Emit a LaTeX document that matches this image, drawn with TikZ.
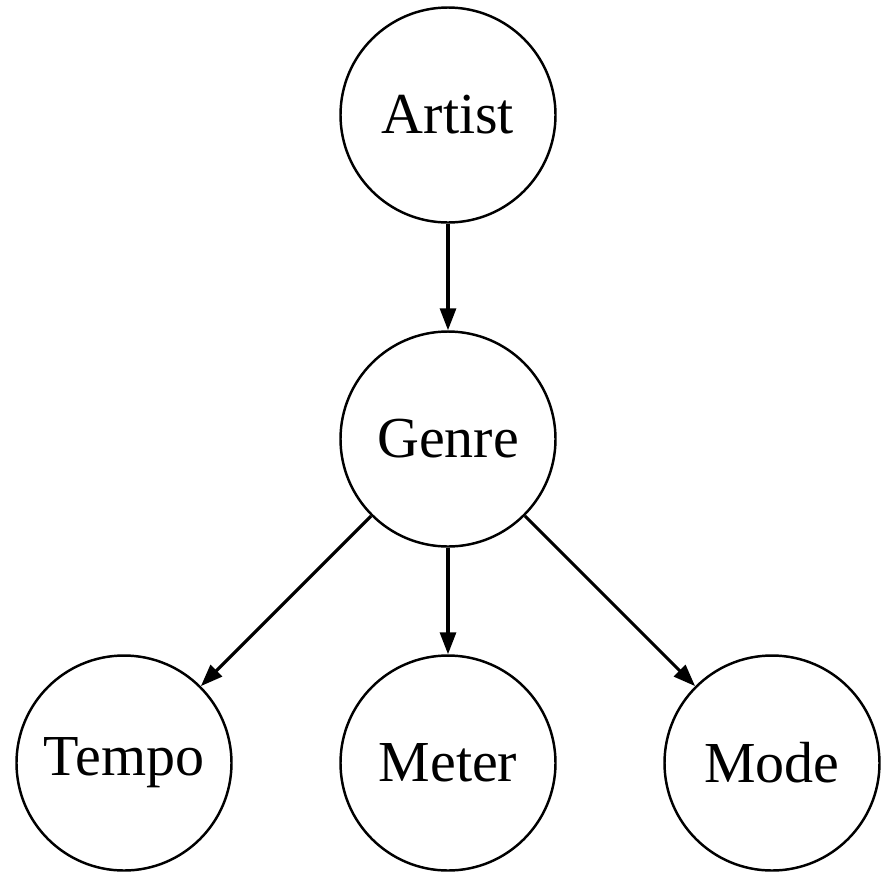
\documentclass[tikz,border=0pt]{standalone}
\usepackage{fontspec}
\setmainfont{Liberation Serif}
\usetikzlibrary{positioning,arrows.meta}

\begin{document}
\begin{tikzpicture}[> = {Triangle[length=2.2mm, width=1.6mm]}, auto, node distance = 3.24cm, line width = 0.7pt]
\tikzstyle{var}=[
  circle,
  draw = black,
  minimum size = 2.15cm,
  inner sep = 0pt,
  font = \fontsize{16.5}{19}\selectfont
]
\useasboundingbox (0,0) rectangle (8.89,8.79);

\node[var] (A) at (4.48,7.64) {Artist};
\node[var] (G) [below of = A] {Genre};
\node[var] (M) [below of = G] {Meter};
\node[var] (T) [left of = M] {Tempo};
\node[var] (O) [right of = M] {Mode};

\path[->, line width = 0.9pt] (A) edge node {} (G);
\path[->, line width = 0.9pt] (G) edge node {} (T);
\path[->, line width = 0.9pt] (G) edge node {} (M);
\path[->, line width = 0.9pt] (G) edge node {} (O);
\end{tikzpicture}
\end{document}
